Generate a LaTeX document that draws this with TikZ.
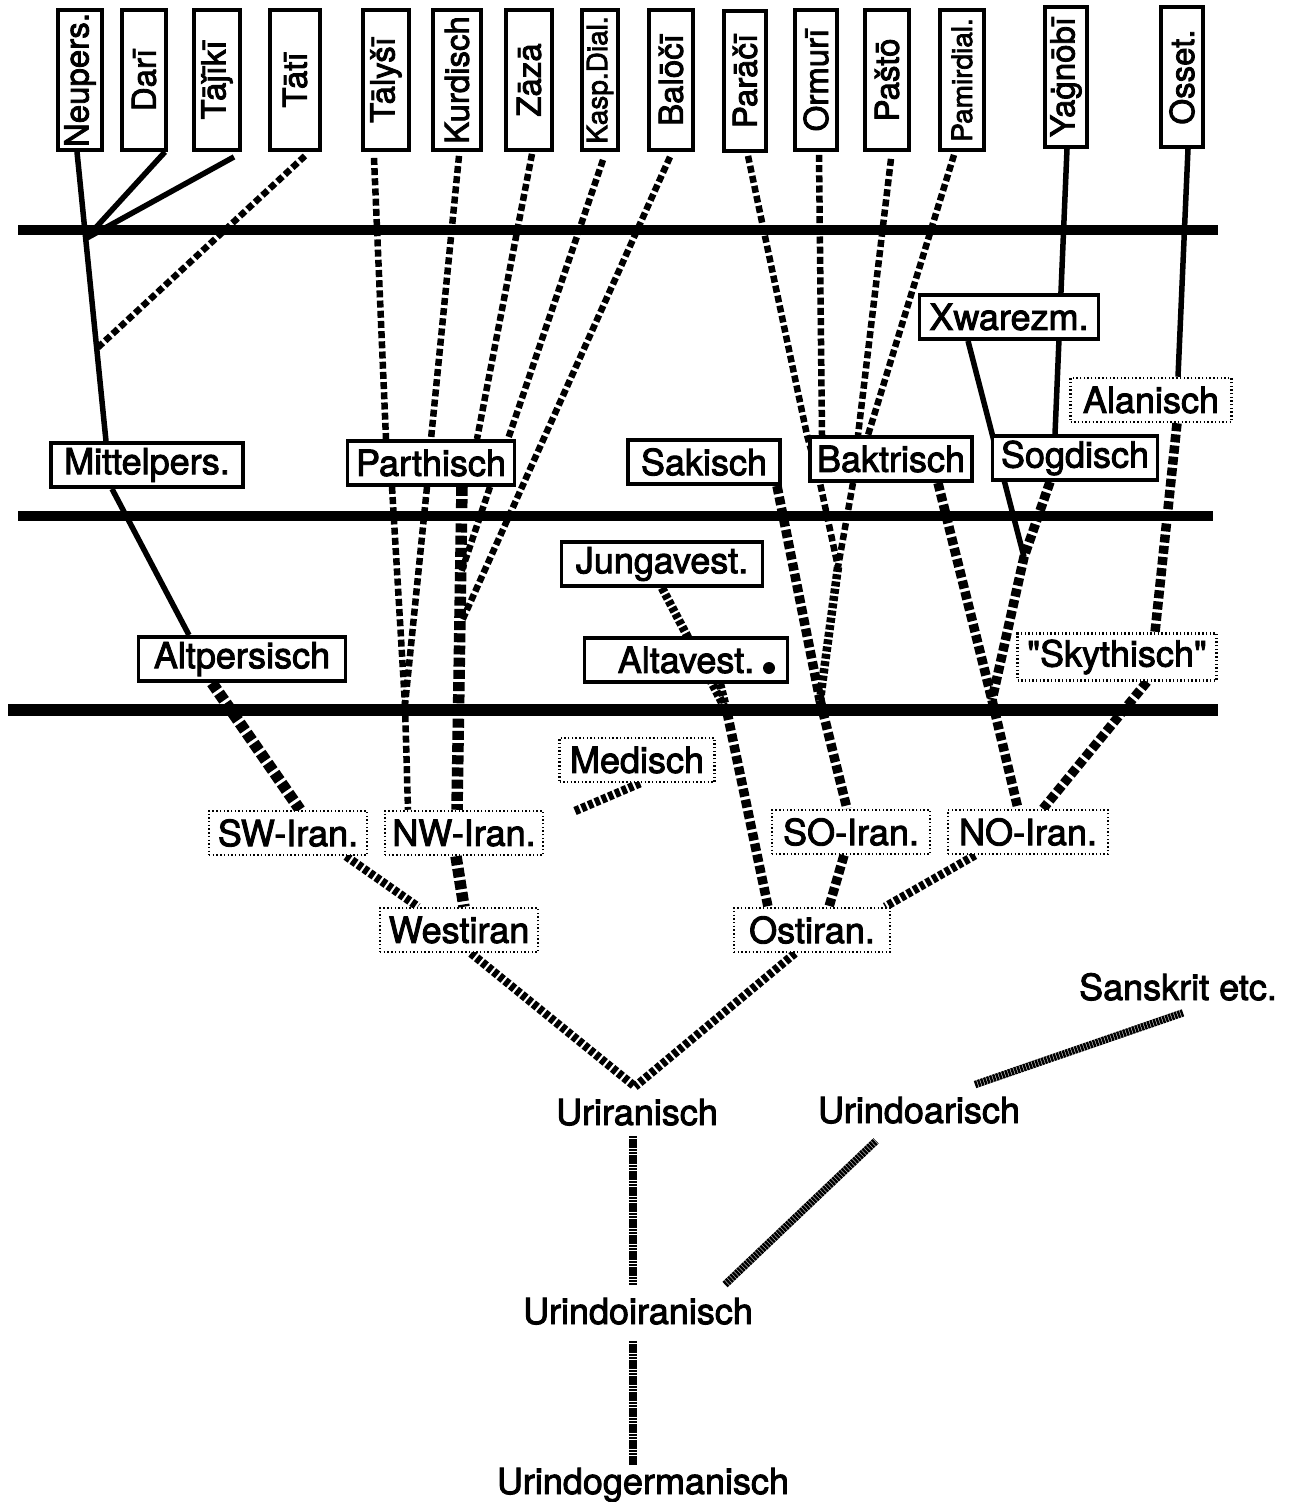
\documentclass[tikz,border=0pt]{standalone}
\usepackage{fontspec}
\setmainfont{TeX Gyre Heros}[Ligatures=TeXOff, FakeBold=2.5]
\usetikzlibrary{calc}
\pgfdeclarelayer{bg}
\pgfsetlayers{bg,main}
\begin{document}
\begin{tikzpicture}[x=1pt,y=-1pt,
  txt/.style={font=\fontsize{36}{40}\selectfont, inner sep=0pt},
  sbox/.style={draw, line width=3.8pt, fill=white, font=\fontsize{36}{40}\selectfont, minimum height=44pt, inner sep=2pt},
  dbox/.style={draw, line width=2.5pt, dash pattern=on 1.4pt off 2.3pt, fill=white, font=\fontsize{36}{40}\selectfont, minimum height=44pt, inner sep=2pt},
  vbox/.style={draw, line width=3.8pt, fill=white, rotate=90, minimum width=140pt, minimum height=44pt, inner sep=1pt, font=\fontsize{33}{36}\selectfont},
  vsmall/.style={font=\fontsize{28}{30}\selectfont},
  period/.style={line width=10.5pt},
  sline/.style={line width=5.5pt},
  dA/.style={line width=6.5pt, dash pattern=on 7pt off 3.2pt},
  dB/.style={line width=9.5pt, dash pattern=on 8pt off 3.2pt},
  dC/.style={line width=8.5pt, dash pattern=on 5pt off 2.3pt},
  dD/.style={line width=11.5pt, dash pattern=on 9pt off 3.2pt},
  grain/.style={line width=7.5pt, dash pattern=on 2.5pt off 0.7pt}
]
\useasboundingbox (0,0) rectangle (1295,1502);

% top row (rotated)
\node[vbox] (neupers) at (80,80) {Neupers.};
\node[vbox] (dari) at (144,80) {Darī};
\node[vbox, minimum height=46pt] (tajiki) at (217,80) {Tāǰīkī};
\node[vbox, minimum height=50pt] (tati) at (295,80) {Tātī};
\node[vbox, minimum height=46pt] (talysi) at (386,80) {Tālyšī};
\node[vbox, minimum height=48pt] (kurd) at (457,80) {Kurdisch};
\node[vbox, minimum height=46pt] (zaza) at (529,80) {Zāzā};
\node[vbox, vsmall, minimum height=36pt] (kasp) at (600,80) {Kasp.Dial.};
\node[vbox] (baloci) at (671,80) {Balōčī};
\node[vbox, minimum height=42pt] (paraci) at (745,81) {Parāčī};
\node[vbox, minimum height=42pt] (ormuri) at (816,80) {Ormurī};
\node[vbox] (pasto) at (887,80) {Paštō};
\node[vbox, vsmall] (pamir) at (962,80) {Pamirdial.};
\node[vbox, minimum height=42pt] (yagnobi) at (1066,77) {Yaġnōbī};
\node[vbox, minimum height=42pt] (osset) at (1182,77) {Osset.};

% solid boxes
\node[sbox, minimum width=192pt] (mittel) at (147,465) {Mittelpers.};
\node[sbox, minimum width=167pt] (parth) at (431,463) {Parthisch};
\node[sbox, minimum width=152pt] (sak) at (704,462) {Sakisch};
\node[sbox, minimum width=162pt] (bakt) at (891,459) {Baktrisch};
\node[sbox, minimum width=165pt] (sogd) at (1075,458) {Sogdisch};
\node[sbox, minimum width=179pt] (xwar) at (1009,317) {Xwarezm.};
\node[sbox, minimum width=201pt] (jung) at (662,564) {Jungavest.};
\node[sbox, minimum width=203pt] (altav) at (686,660) {Altavest.\hspace{24pt}};
\node[sbox, minimum width=207pt] (altp) at (242,659) {Altpersisch};
\fill (769,668) circle (6pt);

% dotted boxes
\node[dbox, minimum width=161pt] (alan) at (1151,400) {Alanisch};
\node[dbox, minimum width=199pt, minimum height=47pt] (skyth) at (1117,657) {"Skythisch"};
\node[dbox, minimum width=155pt] (med) at (637,760) {Medisch};
\node[dbox, minimum width=158pt] (sw) at (288,833) {SW-Iran.};
\node[dbox, minimum width=158pt] (nw) at (464,833) {NW-Iran.};
\node[dbox, minimum width=158pt] (so) at (851,832) {SO-Iran.};
\node[dbox, minimum width=160pt] (no) at (1028,832) {NO-Iran.};
\node[dbox, minimum width=158pt] (west) at (459,930) {Westiran};
\node[dbox, minimum width=156pt] (ost) at (812,930) {Ostiran.};

% plain labels
\node[txt, anchor=base] (urir) at (637,1125) {Uriranisch};
\node[txt, anchor=base] (urinda) at (919,1123) {Urindoarisch};
\node[txt, anchor=base] (sansk) at (1178,1000) {Sanskrit etc.};
\node[txt, anchor=base] (urindoir) at (638,1324) {Urindoiranisch};
\node[txt, anchor=base] (urindog) at (643,1494) {Urindogermanisch};

\begin{pgfonlayer}{bg}
\fill[white] (0,0) rectangle (1295,1502);
% period lines
\draw[period] (18,230) -- (1218,230);
\draw[period] (18,516) -- (1213,516);
\draw[period, line width=12.5pt] (8,710) -- (1218,710);

% Persian branch
\coordinate (npTop) at ([xshift=-3pt]neupers.west);
\coordinate (npBot) at ([xshift=-41pt]mittel.north);
\coordinate (jdar) at ($(npTop)!0.30!(npBot)$);
\coordinate (jtat) at ($(npTop)!0.68!(npBot)$);
\draw[sline] (npTop) -- (npBot);
\draw[sline] ([xshift=21pt]dari.west) -- (jdar);
\draw[sline] ([xshift=17pt,yshift=-5pt]tajiki.west) -- (jdar);
\draw[dA] ([xshift=10pt,yshift=-4pt]tati.west) -- (jtat);
\draw[sline] ([xshift=-35pt]mittel.south) -- ([xshift=-53pt]altp.north);
\draw[dD] ([xshift=-30pt]altp.south) -- ([xshift=12pt]sw.north);

% Parthian branch
\draw[dA] ([xshift=-12pt,yshift=-6pt]talysi.west) -- ([xshift=-45pt]parth.north);
\draw[dA] ([xshift=2pt,yshift=-4pt]kurd.west) -- (parth.north);
\draw[dA] ([xshift=3pt,yshift=-2pt]zaza.west) -- ([xshift=46pt]parth.north);
\draw[dA] ([xshift=3pt,yshift=-8pt]kasp.west) -- ([xshift=77pt]parth.north);
\coordinate (p17a) at ([xshift=31pt]parth.south);
\coordinate (p17b) at ([xshift=-7pt]nw.north);
\coordinate (jp2) at ($(p17a)!0.27!(p17b)$);
\coordinate (jbal) at ($(p17a)!0.43!(p17b)$);
\coordinate (jpv) at (405,705);
\draw[dA] ([xshift=-1pt,yshift=-5pt]baloci.west) -- (jbal);
\draw[dA] ([xshift=-39pt]parth.south) -- (jpv);
\draw[dA] ([xshift=-4pt]parth.south) -- (jpv);
\draw[dA] (jpv) -- ([xshift=-56pt]nw.north);
\draw[dD] (p17a) -- (p17b);
\draw[dA] ([xshift=59pt]parth.south) -- (jp2);

% Eastern branch
\coordinate (jbk) at (838,567);
\coordinate (jso) at (820,700);
\draw[dA] ([xshift=3pt,yshift=-3pt]paraci.west) -- ([xshift=-84pt]bakt.north) -- ([xshift=-71pt]bakt.south) -- (jbk);
\draw[dA] ([xshift=3pt,yshift=-3pt]ormuri.west) -- ([xshift=-69pt]bakt.north);
\draw[dA] ([xshift=4pt,yshift=-7pt]pasto.west) -- ([xshift=-33pt]bakt.north);
\draw[dA] ([xshift=-8pt,yshift=-3pt]pamir.west) -- ([xshift=-23pt]bakt.north);
\draw[dA] ([xshift=-38pt]bakt.south) -- (jbk);
\draw[dC] (jbk) -- (jso);
\draw[dB] ([xshift=73pt]sak.south) -- (jso);
\draw[dB] (jso) -- ([xshift=-4pt]so.north);

\coordinate (jxw) at (1024,557);
\coordinate (jno) at (992,700);
\draw[dB] ([xshift=47pt]bakt.south) -- (jno);
\draw[sline] ([xshift=-41pt]xwar.south) -- (jxw);
\draw[dB] ([xshift=-25pt]sogd.south) -- (jxw) -- (jno);
\draw[dB] (jno) -- ([xshift=-10pt]no.north);
\draw[dB] ([xshift=30pt]skyth.south) -- ([xshift=15pt]no.north);
\draw[dB] ([xshift=26pt]alan.south) -- ([xshift=38pt]skyth.north);
\draw[sline] ([xshift=1pt]yagnobi.west) -- ([xshift=-20pt]sogd.north);
\draw[sline] ([xshift=6pt]osset.west) -- ([xshift=27pt]alan.north);

% Avestan
\coordinate (jav) at (727,712);
\draw[dC] (jung.south) -- (jav);
\draw[dC] ([xshift=34pt]altav.south) -- (jav);
\draw[dB] (jav) -- ([xshift=-44pt]ost.north);
\coordinate (medend) at (575,811);
\draw[dC] ([xshift=3pt]med.south) -- (medend);

% lower tree
\draw[dC] ([xshift=58pt]sw.south) -- ([xshift=-41pt]west.north);
\draw[dD] ([xshift=-8pt]nw.south) -- ([xshift=5pt]west.north);
\draw[dB] ([xshift=-7pt]so.south) -- ([xshift=17pt]ost.north);
\draw[dC] ([xshift=-53pt]no.south) -- ([xshift=73pt]ost.north);
\draw[dC] ([xshift=12pt]west.south) -- ([xshift=-2pt,yshift=12pt]urir.north);
\draw[dC] ([xshift=-17pt]ost.south) -- ([xshift=-2pt,yshift=12pt]urir.north);

\draw[grain] ([xshift=-4pt,yshift=-10pt]urir.south) -- ([xshift=-5pt,yshift=13pt]urindoir.north);
\draw[grain] ([xshift=-5pt,yshift=-16pt]urindoir.south) -- ([xshift=-10pt,yshift=3pt]urindog.north);
\draw[grain] ([xshift=87pt,yshift=13pt]urindoir.north) -- ([xshift=-43pt,yshift=-17pt]urinda.south);
\draw[grain] ([xshift=56pt,yshift=12pt]urinda.north) -- ([xshift=5pt,yshift=-12pt]sansk.south);
\end{pgfonlayer}
\end{tikzpicture}
\end{document}
